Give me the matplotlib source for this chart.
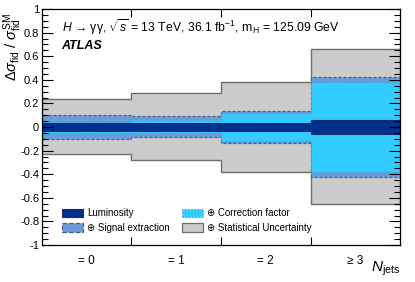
import numpy as np
import matplotlib
matplotlib.use("Agg")
import matplotlib.pyplot as plt
from matplotlib.patches import Patch
from matplotlib.ticker import MultipleLocator, FuncFormatter

plt.rcParams['font.family'] = ['Liberation Sans', 'DejaVu Sans']
plt.rcParams['mathtext.fontset'] = 'custom'
plt.rcParams['mathtext.rm'] = 'Liberation Sans'
plt.rcParams['mathtext.it'] = 'Liberation Sans:italic'
plt.rcParams['mathtext.bf'] = 'Liberation Sans:bold'

# bins of N_jets
bin_labels = ['= 0', '= 1', '= 2', '≥ 3']
edges = [0, 1, 2, 3, 4]

# relative uncertainties (up / down)
lumi_up = [0.031, 0.035, 0.035, 0.056]
lumi_dn = [-0.031, -0.033, -0.033, -0.056]
corr_up = [0.045, 0.056, 0.116, 0.384]
corr_dn = [-0.047, -0.054, -0.116, -0.380]
sig_up = [0.104, 0.092, 0.138, 0.426]
sig_dn = [-0.100, -0.087, -0.134, -0.421]
stat_up = [0.235, 0.285, 0.380, 0.660]
stat_dn = [-0.229, -0.280, -0.380, -0.652]

c_lumi = '#002f8e'
c_sig = '#6b9bd8'
c_corr = '#33ccff'
c_stat = '#cccccc'

fig = plt.figure(figsize=(4.15, 2.82), dpi=100)
ax = fig.add_axes([0.101, 0.131, 0.863, 0.837])

ax.stairs(stat_up, edges, baseline=stat_dn, fill=True, facecolor=c_stat,
          edgecolor='#6e6e6e', linewidth=1.0)
ax.stairs(sig_up, edges, baseline=sig_dn, fill=True, facecolor=c_sig,
          edgecolor='#4a5f80', linewidth=0.9, linestyle=(0, (2.5, 1.5)))
ax.stairs(corr_up, edges, baseline=corr_dn, fill=True, facecolor=c_corr,
          edgecolor='#4f9fd8', linewidth=0.9, linestyle=(0, (1, 1)))
ax.stairs(lumi_up, edges, baseline=lumi_dn, fill=True, facecolor=c_lumi,
          edgecolor='#1a2d6a', linewidth=0.8)

ax.set_xlim(0, 4)
ax.set_ylim(-1, 1)

centers = [0.5, 1.5, 2.5, 3.5]
ax.set_xticks(centers, bin_labels)
ax.set_xticks(edges[1:-1], minor=True)
ax.tick_params(axis='x', which='major', length=0, labelsize=8.5, pad=7)
ax.tick_params(axis='x', which='minor', direction='in', length=6,
               top=True, bottom=True, width=0.8)


def fmt(v, pos):
    v = round(v, 2)
    if v == 0:
        return '0'
    return '%g' % v


ax.yaxis.set_major_locator(MultipleLocator(0.2))
ax.yaxis.set_minor_locator(MultipleLocator(0.05))
ax.yaxis.set_major_formatter(FuncFormatter(fmt))
ax.tick_params(axis='y', which='both', direction='in', left=True, right=True,
               labelsize=8, width=0.8, pad=2)
ax.tick_params(axis='y', which='major', length=8)
ax.tick_params(axis='y', which='minor', length=4)
for s in ax.spines.values():
    s.set_linewidth(0.9)

ax.text(0.055, 0.925,
        r'$H$ → γγ, $\sqrt{s}$ = 13 TeV, 36.1 fb$^{\mathrm{-1}}$, m$_{\mathrm{H}}$ = 125.09 GeV',
        transform=ax.transAxes, fontsize=8.8, va='center', ha='left')
ax.text(0.055, 0.845, 'ATLAS', transform=ax.transAxes, fontsize=9,
        fontweight='bold', fontstyle='italic', va='center', ha='left')

ax.set_ylabel(r'$\Delta\sigma_{\mathrm{fid}}$ / $\sigma^{\mathrm{SM}}_{\mathrm{fid}}$',
              fontsize=10.5, loc='top')
ax.yaxis.set_label_coords(-0.05, 0.985)
ax.set_xlabel(r'$N_{\mathrm{jets}}$', fontsize=11, loc='right')
ax.xaxis.set_label_coords(1.0, -0.062)

handles = [
    Patch(facecolor=c_lumi, edgecolor='#1a2d6a', linewidth=0.8, label='Luminosity'),
    Patch(facecolor=c_sig, edgecolor='#4a5f80', linewidth=0.9, linestyle='--',
          label='⊕ Signal extraction'),
    Patch(facecolor=c_corr, edgecolor='#4f9fd8', linewidth=0.9, linestyle=':',
          label='⊕ Correction factor'),
    Patch(facecolor=c_stat, edgecolor='#6e6e6e', linewidth=0.9,
          label='⊕ Statistical Uncertainty'),
]
ax.legend(handles=handles, ncol=2, loc='lower left', bbox_to_anchor=(0.056, 0.052),
          frameon=False, fontsize=7, handlelength=2.2, handleheight=1.0,
          handletextpad=0.4, columnspacing=1.2, labelspacing=0.45,
          borderaxespad=0, borderpad=0)

fig.savefig('out.png', dpi=100)
